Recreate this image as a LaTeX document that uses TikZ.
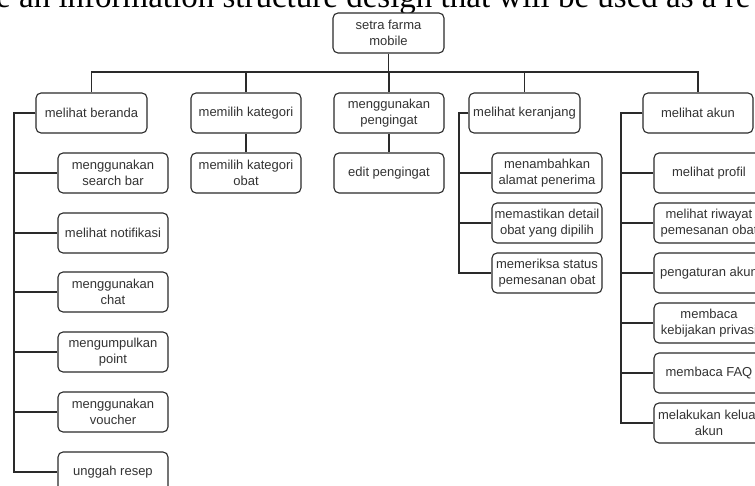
\documentclass[tikz,border=0pt]{standalone}
\usepackage{fontspec}
\setmainfont{Liberation Serif}
\newfontfamily\boxfont{Liberation Sans}
\usepackage{tikz}
\usetikzlibrary{positioning}
\definecolor{boxtext}{HTML}{333333}
\definecolor{boxline}{HTML}{2A2A2A}

\begin{document}
\begin{tikzpicture}[x=1pt,y=-1pt,
  box/.style={draw=boxline,fill=white,line width=1.1pt,rounded corners=5pt,minimum width=110pt,
    minimum height=40pt,align=center,inner sep=1pt,text=boxtext,
    font=\boxfont\fontsize{13}{16}\selectfont},
  link/.style={draw=boxline,line width=1.1pt}]
\useasboundingbox (0,0) rectangle (755,486);
\clip (0,0) rectangle (755,486);
\node[anchor=base west,inner sep=0,font=\fontsize{33}{40}\selectfont] (title) at (-4,8)
  {e an information structure design that will be used as a re};
% root and first level
\node[box,minimum width=111pt] (z) at (388.5,33) {setra farma\\mobile};
\node[box,minimum width=111pt] (a) at (91.5,113) {melihat beranda};
\node[box] (b) at (246,113) {memilih kategori};
\node[box] (c) at (389,113) {menggunakan\\pengingat};
\node[box,minimum width=111pt] (d) at (524.5,113) {melihat keranjang};
\node[box] (e) at (698,113) {melihat akun};
% second level
\node[box] (aa) at (113,173) {menggunakan\\search bar};
\node[box] (ab) at (113,233) {melihat notifikasi};
\node[box] (ac) at (113,292) {menggunakan\\chat};
\node[box] (ad) at (113,352) {mengumpulkan\\point};
\node[box] (ae) at (113,412) {menggunakan\\voucher};
\node[box] (af) at (113,472) {unggah resep};
\node[box] (ba) at (246,173) {memilih kategori\\obat};
\node[box] (ca) at (389,173) {edit pengingat};
\node[box] (da) at (547,173) {menambahkan\\alamat penerima};
\node[box] (db) at (547,223) {memastikan detail\\obat yang dipilih};
\node[box] (dc) at (547,273) {memeriksa status\\pemesanan obat};
\node[box] (ea) at (709,173) {melihat profil};
\node[box] (eb) at (709,223) {melihat riwayat\\pemesanan obat};
\node[box] (ec) at (709,273) {pengaturan akun};
\node[box] (ed) at (709,323) {membaca\\kebijakan privasi};
\node[box] (ee) at (709,373) {membaca FAQ};
\node[box] (ef) at (709,423) {melakukan keluar\\akun};
% bus and spines
\coordinate (bus) at (388.5,72);
\coordinate (as) at (14,113);
\coordinate (ds) at (459,113);
\coordinate (es) at (621,113);
\draw[link] (z) -- (bus);
\draw[link] (bus) -| (a);
\draw[link] (bus) -| (b);
\draw[link] (bus) -| (c);
\draw[link] (bus) -| (d);
\draw[link] (bus) -| (e);
\draw[link] (b) -- (ba);
\draw[link] (c) -- (ca);
\draw[link] (a) -- (as) |- (aa);
\draw[link] (a) -- (as) |- (ab);
\draw[link] (a) -- (as) |- (ac);
\draw[link] (a) -- (as) |- (ad);
\draw[link] (a) -- (as) |- (ae);
\draw[link] (a) -- (as) |- (af);
\draw[link] (d) -- (ds) |- (da);
\draw[link] (d) -- (ds) |- (db);
\draw[link] (d) -- (ds) |- (dc);
\draw[link] (e) -- (es) |- (ea);
\draw[link] (e) -- (es) |- (eb);
\draw[link] (e) -- (es) |- (ec);
\draw[link] (e) -- (es) |- (ed);
\draw[link] (e) -- (es) |- (ee);
\draw[link] (e) -- (es) |- (ef);
\end{tikzpicture}
\end{document}
